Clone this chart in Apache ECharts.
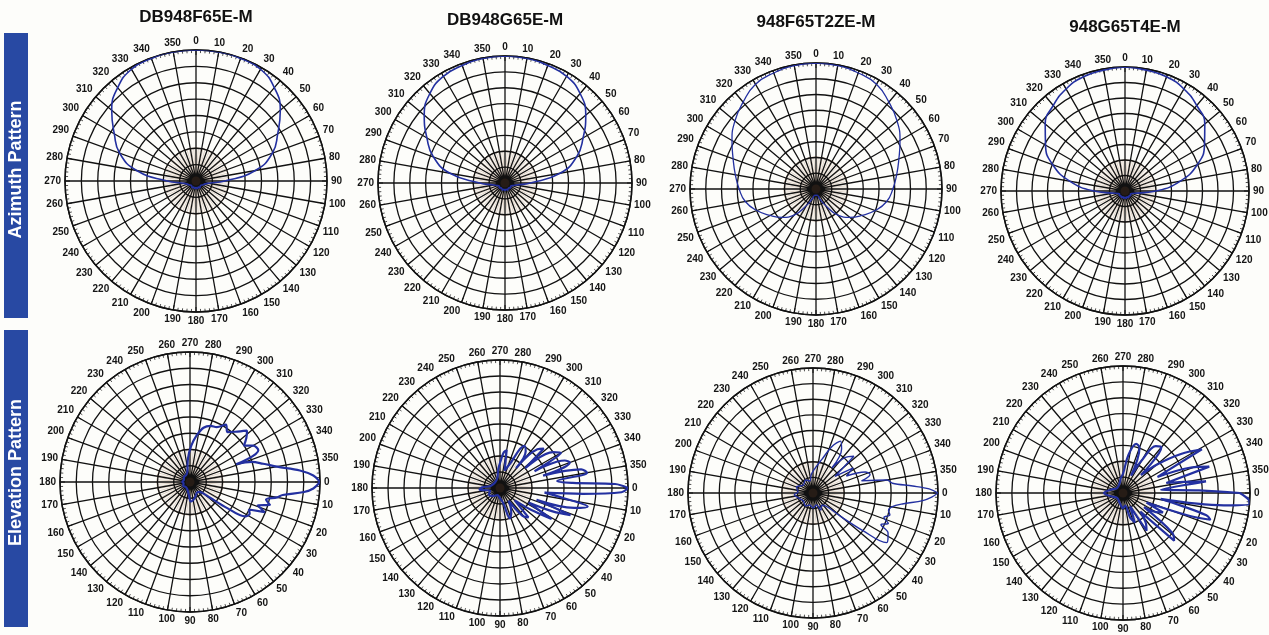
<!DOCTYPE html>
<html><head><meta charset="utf-8">
<script src="https://cdn.jsdelivr.net/npm/echarts@6/dist/echarts.min.js"></script>
<style>html,body{margin:0;padding:0;background:#fdfdfa}#c{width:1269px;height:635px}</style>
</head><body><div id="c"></div>
<script>
// ---------- data ----------
const MODELS = ['DB948F65E-M', 'DB948G65E-M', '948F65T2ZE-M', '948G65T4E-M'];
const ROW_LABELS = ['Azimuth Pattern', 'Elevation Pattern'];

// azimuth: angle (deg) and relative level (normalised field, 1 = peak)
const AZ_ANGLES = [0,10,20,30,40,50,60,70,80,90,100,110,120,130,140,150,160,170,180,190,200,210,220,230,240,250,260,270,280,290,300,310,320,330,340,350,360];
const AZ_DB948F65E  = [1,1,0.995,0.985,0.93,0.84,0.72,0.62,0.46,0.22,0.1,0.07,0.06,0.05,0.05,0.06,0.05,0.06,0.05,0.06,0.05,0.06,0.05,0.05,0.06,0.07,0.1,0.22,0.46,0.62,0.72,0.84,0.93,0.985,0.995,1,1];
const AZ_DB948G65E  = [1,0.995,0.985,0.97,0.92,0.83,0.71,0.6,0.44,0.2,0.09,0.06,0.05,0.06,0.05,0.05,0.06,0.05,0.06,0.05,0.06,0.05,0.05,0.06,0.05,0.06,0.09,0.2,0.44,0.6,0.71,0.83,0.92,0.97,0.985,0.995,1];
const AZ_948F65T2ZE = [1,0.995,0.98,0.96,0.9,0.84,0.77,0.7,0.65,0.61,0.57,0.5,0.42,0.35,0.27,0.15,0.08,0.05,0.05,0.05,0.08,0.15,0.27,0.35,0.42,0.5,0.57,0.61,0.65,0.7,0.77,0.84,0.9,0.96,0.98,0.995,1];
const AZ_948G65T4E  = [1,0.99,0.98,0.95,0.9,0.84,0.74,0.62,0.45,0.25,0.1,0.06,0.05,0.06,0.05,0.06,0.05,0.06,0.05,0.06,0.05,0.06,0.05,0.06,0.05,0.06,0.1,0.25,0.45,0.62,0.74,0.84,0.9,0.95,0.98,0.99,1];

// elevation: angle (deg) and relative level
const EL_DB948F65E_ANG = [0,3,5,8,10,13,16,19,22,25,28,32,35,38,42,50,60,70,80,88,95,110,130,150,170,180,200,220,240,255,265,272,278,284,290,296,302,307,312,318,322,326,330,335,339,342,346,350,354,357,360];
const EL_DB948F65E_VAL = [1,0.95,0.88,0.72,0.68,0.6,0.64,0.55,0.62,0.5,0.52,0.5,0.35,0.2,0.12,0.1,0.1,0.12,0.14,0.15,0.1,0.06,0.05,0.06,0.05,0.06,0.05,0.06,0.06,0.08,0.18,0.28,0.36,0.43,0.46,0.47,0.52,0.48,0.52,0.59,0.55,0.5,0.56,0.58,0.38,0.5,0.58,0.68,0.85,0.95,1];

const EL_DB948G65E_ANG = [0,2,4,6,9,12,15,18,21,24,27,31,35,40,46,51,56,64,72,78,90,110,130,150,165,175,182,190,210,235,255,265,272,276,280,285,292,300,305,309,314,318,322,326,330,334,337,340,344,347,350,353,356,358,360];
const EL_DB948G65E_VAL = [1,0.95,0.65,0.35,0.5,0.7,0.6,0.3,0.59,0.45,0.25,0.47,0.3,0.15,0.32,0.28,0.12,0.2,0.25,0.12,0.08,0.06,0.08,0.1,0.08,0.16,0.14,0.08,0.06,0.06,0.08,0.15,0.22,0.28,0.3,0.14,0.2,0.38,0.35,0.2,0.42,0.46,0.25,0.5,0.55,0.3,0.55,0.58,0.35,0.65,0.69,0.45,0.57,0.9,1];

const EL_948F65T2ZE_ANG = [0,2,4,7,10,13,16,19,22,25,28,31,34,37,40,45,55,65,75,90,105,120,140,160,175,185,200,220,240,255,265,275,285,292,298,303,307,312,318,323,328,333,338,342,346,350,353,356,358,360];
const EL_948F65T2ZE_VAL = [1,0.95,0.88,0.72,0.64,0.62,0.64,0.6,0.65,0.6,0.68,0.7,0.71,0.5,0.3,0.15,0.12,0.15,0.1,0.12,0.1,0.12,0.1,0.12,0.15,0.12,0.14,0.1,0.12,0.1,0.15,0.2,0.28,0.4,0.47,0.42,0.25,0.38,0.44,0.22,0.38,0.3,0.45,0.48,0.4,0.6,0.64,0.8,0.93,1];

const EL_948G65T4E_ANG = [0,3,5,7,9,12,15,17,19,22,26,30,34,39,43,47,53,58,62,68,74,80,90,110,140,165,180,195,220,250,262,270,278,285,290,295,300,305,310,315,320,326,331,335,339,343,347,349,352,355,358,360];
const EL_948G65T4E_VAL = [0.92,0.99,1,0.8,0.3,0.45,0.68,0.72,0.55,0.2,0.35,0.3,0.2,0.5,0.55,0.2,0.3,0.35,0.12,0.25,0.2,0.1,0.12,0.08,0.06,0.1,0.15,0.1,0.06,0.08,0.12,0.15,0.3,0.4,0.38,0.15,0.3,0.45,0.47,0.2,0.35,0.55,0.71,0.3,0.55,0.71,0.35,0.45,0.66,0.3,0.6,0.92];

// ---------- layout ----------
const PLOTS = [
  {c:[196,181], r:131, start:90, ang:AZ_ANGLES, val:AZ_DB948F65E, w:1.6},
  {c:[505,183], r:127, start:90, ang:AZ_ANGLES, val:AZ_DB948G65E, w:1.6},
  {c:[816,189], r:126, start:90, ang:AZ_ANGLES, val:AZ_948F65T2ZE, w:1.3},
  {c:[1125,191], r:124, start:90, ang:AZ_ANGLES, val:AZ_948G65T4E, w:1.6},
  {c:[190,482], r:130, start:0, ang:EL_DB948F65E_ANG, val:EL_DB948F65E_VAL, w:2.2},
  {c:[500,488], r:128, start:0, ang:EL_DB948G65E_ANG, val:EL_DB948G65E_VAL, w:2.2},
  {c:[813,493], r:125, start:0, ang:EL_948F65T2ZE_ANG, val:EL_948F65T2ZE_VAL, w:1.4},
  {c:[1123,493], r:127, start:0, ang:EL_948G65T4E_ANG, val:EL_948G65T4E_VAL, w:2.2}
];
const TITLE_Y = [17, 20, 22, 27];
const FONT = "'Liberation Sans Narrow','Arial Narrow','Liberation Sans',sans-serif";

const polar = [], angleAxis = [], radiusAxis = [], series = [];
PLOTS.forEach((p, i) => {
  // dense inner spokes (drawn first, underneath)
  polar.push({center: p.c, radius: Math.round(p.r * 0.25)});
  angleAxis.push({
    polarIndex: polar.length - 1, type: 'value', min: 0, max: 360, interval: 4,
    startAngle: p.start, clockwise: true, z: 0,
    axisLine: {lineStyle: {color: 'rgba(150,110,80,0.6)', width: 0.7}},
    axisTick: {show: false}, axisLabel: {show: false},
    splitLine: {show: true, lineStyle: {color: 'rgba(160,120,90,0.55)', width: 0.6}}
  });
  radiusAxis.push({
    polarIndex: polar.length - 1, type: 'value', min: 0, max: 1, interval: 0.5,
    axisLine: {show: false}, axisTick: {show: false}, axisLabel: {show: false},
    splitLine: {show: true, lineStyle: {color: 'rgba(150,110,80,0.6)', width: 0.7}}
  });
  // main grid
  polar.push({center: p.c, radius: p.r});
  const mainIdx = polar.length - 1;
  angleAxis.push({
    polarIndex: mainIdx, type: 'value', min: 0, max: 360, interval: 10,
    startAngle: p.start, clockwise: true, z: 2,
    axisLine: {lineStyle: {color: '#111', width: 1.5}},
    axisTick: {show: true, inside: true, length: 5, lineStyle: {color: '#111', width: 1}},
    minorTick: {show: true, splitNumber: 5, length: 3, lineStyle: {color: '#222', width: 0.8}},
    axisLabel: {margin: 4, fontSize: 10, color: '#151515', fontFamily: FONT, fontWeight: 'bold',
      formatter: v => (v === 360 ? '' : String(v))},
    splitLine: {show: true, lineStyle: {color: '#111', width: 1.3}}
  });
  radiusAxis.push({
    polarIndex: mainIdx, type: 'value', min: 0, max: 1, interval: 0.125,
    axisLine: {show: false}, axisTick: {show: false}, axisLabel: {show: false},
    splitLine: {show: true, lineStyle: {color: '#111', width: 1.3}}, z: 2
  });
  series.push({
    type: 'scatter', coordinateSystem: 'polar', polarIndex: mainIdx,
    data: [[0, 0]], symbolSize: 9, itemStyle: {color: 'rgba(50,35,25,0.8)'}, silent: true, z: 3
  });
  series.push({
    type: 'line', coordinateSystem: 'polar', polarIndex: mainIdx,
    data: p.ang.map((a, k) => [p.val[k], a]),
    smooth: i >= 4 ? 0.35 : 0.5, showSymbol: false, silent: true, z: 5,
    lineStyle: {color: '#2330a0', width: p.w}
  });
});

const graphic = [];
MODELS.forEach((m, i) => {
  graphic.push({type: 'text', x: PLOTS[i].c[0], y: TITLE_Y[i], z: 10,
    style: {text: m, fontSize: 17, fontWeight: 'bold', fontFamily: FONT, fill: '#111',
      textAlign: 'center', textVerticalAlign: 'middle'}});
});
const BOXES = [[33, 318], [330, 627]];
ROW_LABELS.forEach((t, i) => {
  const [y0, y1] = BOXES[i];
  graphic.push({type: 'rect', shape: {x: 4, y: y0, width: 24, height: y1 - y0}, style: {fill: '#2849a3'}, z: 10});
  graphic.push({type: 'text', x: 16, y: (y0 + y1) / 2 - 6, rotation: Math.PI / 2, z: 11,
    style: {text: t, fontSize: 18, fontWeight: 'bold', fontFamily: "'Liberation Sans',sans-serif", fill: '#fff',
      textAlign: 'center', textVerticalAlign: 'middle'}});
});

const chart = echarts.init(document.getElementById('c'), null, {renderer: 'canvas'});
chart.setOption({
  backgroundColor: '#fdfdfa', animation: false,
  polar, angleAxis, radiusAxis, series, graphic
});
</script></body></html>
